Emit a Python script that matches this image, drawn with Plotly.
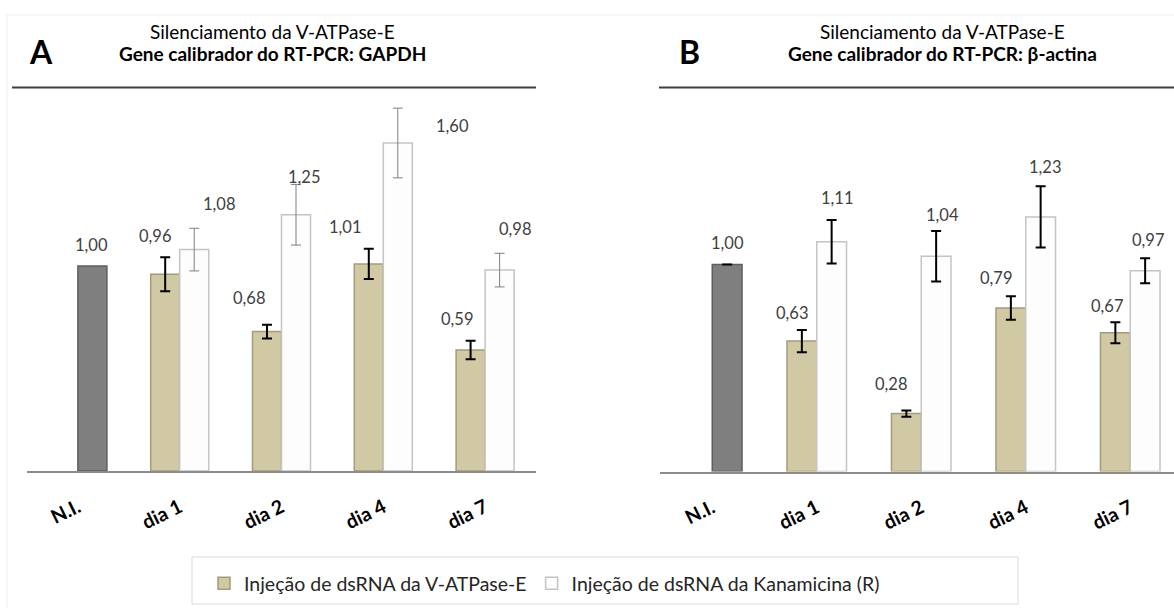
import plotly.graph_objects as go

W, H = 1174, 608

# ---------------- data ----------------
categories = ["N.I.", "dia 1", "dia 2", "dia 4", "dia 7"]
days = categories[1:]

series_names = ["Injeção de dsRNA da V-ATPase-E", "Injeção de dsRNA da Kanamicina (R)"]

# Panel A (calibrator GAPDH)
ni_A = [1.00]
vatp_A = [0.96, 0.68, 1.01, 0.59]
vatp_A_err = [0.083, 0.034, 0.074, 0.045]
kana_A = [1.08, 1.25, 1.60, 0.98]
kana_A_err = [0.104, 0.148, 0.17, 0.082]

# Panel B (calibrator beta-actin)
ni_B = [1.00]
ni_B_err = [0.0]
vatp_B = [0.63, 0.28, 0.79, 0.67]
vatp_B_err = [0.054, 0.015, 0.057, 0.051]
kana_B = [1.11, 1.04, 1.23, 0.97]
kana_B_err = [0.105, 0.122, 0.148, 0.06]

title_line1 = "Silenciamento da V-ATPase-E"
title_A = "Gene calibrador do RT-PCR: GAPDH"
title_B = "Gene calibrador do RT-PCR: β-actina"

# ---------------- style ----------------
FONT = "Lato, 'Noto Sans', sans-serif"
TAN, TAN_EDGE = "#D0C9A3", "#A39C78"
WHITE, WHITE_EDGE = "#FDFDFD", "#C4C4C4"
GRAY, GRAY_EDGE = "#7F7F7F", "#5E5E5E"
BW = 0.285

# label pixel shifts (dx, dy) relative to bar top centre
shift_A_ni = [(-1, 21)]
shift_A_v = [(-10, 38), (-18, 34), (-24, 37), (-14, 31)]
shift_A_k = [(25, 46), (8, 38), (55, 17), (15, 41)]
shift_B_ni = [(0, 22)]
shift_B_v = [(-10, 28), (-15, 30), (-15, 30), (-8, 27)]
shift_B_k = [(5, 44), (6, 41), (4, 50), (3, 31)]


def px(x):
    return x / W


def py(y):
    return 1 - y / H


def fmt(v):
    return f"{v:.2f}".replace(".", ",")


fig = go.Figure()


def add_panel(xa, ya, ni, ni_err, v, v_err, k, k_err, k_err_color, k_err_thick, legend):
    xr = "x" if xa == "xaxis" else "x2"
    yr = "y" if ya == "yaxis" else "y2"
    fig.add_trace(go.Bar(
        x=["N.I."], y=ni, width=BW, offset=0, xaxis=xr, yaxis=yr,
        marker=dict(color=GRAY, line=dict(color=GRAY_EDGE, width=1.5)),
        error_y=(dict(type="data", array=ni_err, color="#000", thickness=2, width=5)
                 if ni_err is not None else None),
        showlegend=False, hoverinfo="skip"))
    fig.add_trace(go.Bar(
        x=days, y=v, width=BW, offset=-BW, xaxis=xr, yaxis=yr, name=series_names[0],
        marker=dict(color=TAN, line=dict(color=TAN_EDGE, width=1.5)),
        error_y=dict(type="data", array=v_err, color="#000", thickness=2, width=5),
        showlegend=legend, legendgroup="v"))
    fig.add_trace(go.Bar(
        x=days, y=k, width=BW, offset=0, xaxis=xr, yaxis=yr, name=series_names[1],
        marker=dict(color=WHITE, line=dict(color=WHITE_EDGE, width=1.5)),
        error_y=dict(type="data", array=k_err, color=k_err_color, thickness=k_err_thick, width=5),
        showlegend=legend, legendgroup="k"))


add_panel("xaxis", "yaxis", ni_A, None, vatp_A, vatp_A_err, kana_A, kana_A_err, "#7F7F7F", 1, True)
add_panel("xaxis2", "yaxis2", ni_B, ni_B_err, vatp_B, vatp_B_err, kana_B, kana_B_err, "#000", 2, False)

annotations = []


def labels(xr, yr, xs, ys, offs, shifts):
    for xi, yv, (dx, dy) in zip(xs, ys, shifts):
        annotations.append(dict(
            x=categories.index(xi) + offs, y=yv, xref=xr, yref=yr, text=fmt(yv),
            showarrow=False, xanchor="center", yanchor="middle", xshift=dx, yshift=dy,
            font=dict(family=FONT, size=16.5, color="#404040")))


labels("x", "y", ["N.I."], ni_A, BW / 2, shift_A_ni)
labels("x", "y", days, vatp_A, -BW / 2, shift_A_v)
labels("x", "y", days, kana_A, BW / 2, shift_A_k)
labels("x2", "y2", ["N.I."], ni_B, BW / 2, shift_B_ni)
labels("x2", "y2", days, vatp_B, -BW / 2, shift_B_v)
labels("x2", "y2", days, kana_B, BW / 2, shift_B_k)

# titles
for cx, letter, lx, t2 in [(272, "A", 41, title_A), (942, "B", 689, title_B)]:
    annotations.append(dict(x=px(cx), y=py(32), xref="paper", yref="paper", text=title_line1,
                            showarrow=False, xanchor="center", yanchor="middle",
                            font=dict(family=FONT, size=19, color="#000")))
    annotations.append(dict(x=px(cx), y=py(53), xref="paper", yref="paper", text=f"<b>{t2}</b>",
                            showarrow=False, xanchor="center", yanchor="middle",
                            font=dict(family=FONT, size=19, color="#000")))
    annotations.append(dict(x=px(lx), y=py(52), xref="paper", yref="paper", text=f"<b>{letter}</b>",
                            showarrow=False, xanchor="center", yanchor="middle",
                            font=dict(family=FONT, size=32, color="#000")))

shapes = [
    # faint outer chart border
    dict(type="line", xref="paper", yref="paper", x0=px(7), x1=px(7), y0=py(15), y1=0,
         line=dict(color="#EEEEEE", width=1)),
    dict(type="line", xref="paper", yref="paper", x0=px(7), x1=1, y0=py(15), y1=py(15),
         line=dict(color="#EEEEEE", width=1)),
    # title rules
    dict(type="line", xref="paper", yref="paper", x0=px(12), x1=px(536), y0=py(87.5), y1=py(87.5),
         line=dict(color="#3F3F3F", width=2)),
    dict(type="line", xref="paper", yref="paper", x0=px(659), x1=1, y0=py(87.5), y1=py(87.5),
         line=dict(color="#3F3F3F", width=2)),
    # legend box
    dict(type="rect", xref="paper", yref="paper", x0=px(192), x1=px(1018), y0=py(557), y1=py(604),
         line=dict(color="#D9D9D9", width=1), fillcolor="rgba(0,0,0,0)"),
]

xcommon = dict(type="category", categoryorder="array", categoryarray=categories,
               showline=True, linecolor="#8C8C8C", linewidth=1.5, showgrid=False,
               zeroline=False, ticks="", tickangle=-26, ticklabelstandoff=16,
               tickfont=dict(family=FONT, size=19.5, color="#000", weight="bold"))
ycommon = dict(showgrid=False, zeroline=False, showline=False, showticklabels=False, ticks="")

fig.update_layout(
    width=W, height=H, autosize=False,
    margin=dict(l=0, r=0, t=0, b=0),
    paper_bgcolor="white", plot_bgcolor="white",
    barmode="overlay",
    xaxis=dict(domain=[px(27), px(536)], range=[-0.5, 4.5], anchor="y", **xcommon),
    yaxis=dict(domain=[py(471), py(90)], range=[0, (471 - 90) / 205], anchor="x", **ycommon),
    xaxis2=dict(domain=[px(660), 1.0], range=[-0.5, -0.5 + 514 / 104.5], anchor="y2", **xcommon),
    yaxis2=dict(domain=[py(471.5), py(90)], range=[0, (471.5 - 90) / 207], anchor="x2", **ycommon),
    legend=dict(orientation="h", x=px(204), y=py(564), xanchor="left", yanchor="top",
                bgcolor="rgba(0,0,0,0)", borderwidth=0,
                font=dict(family=FONT, size=19.5, color="#262626")),
    annotations=annotations,
    shapes=shapes,
)

fig.write_html("out.html", config={"displayModeBar": False},
               post_script="document.body.style.margin='0';document.body.style.overflow='hidden';")
